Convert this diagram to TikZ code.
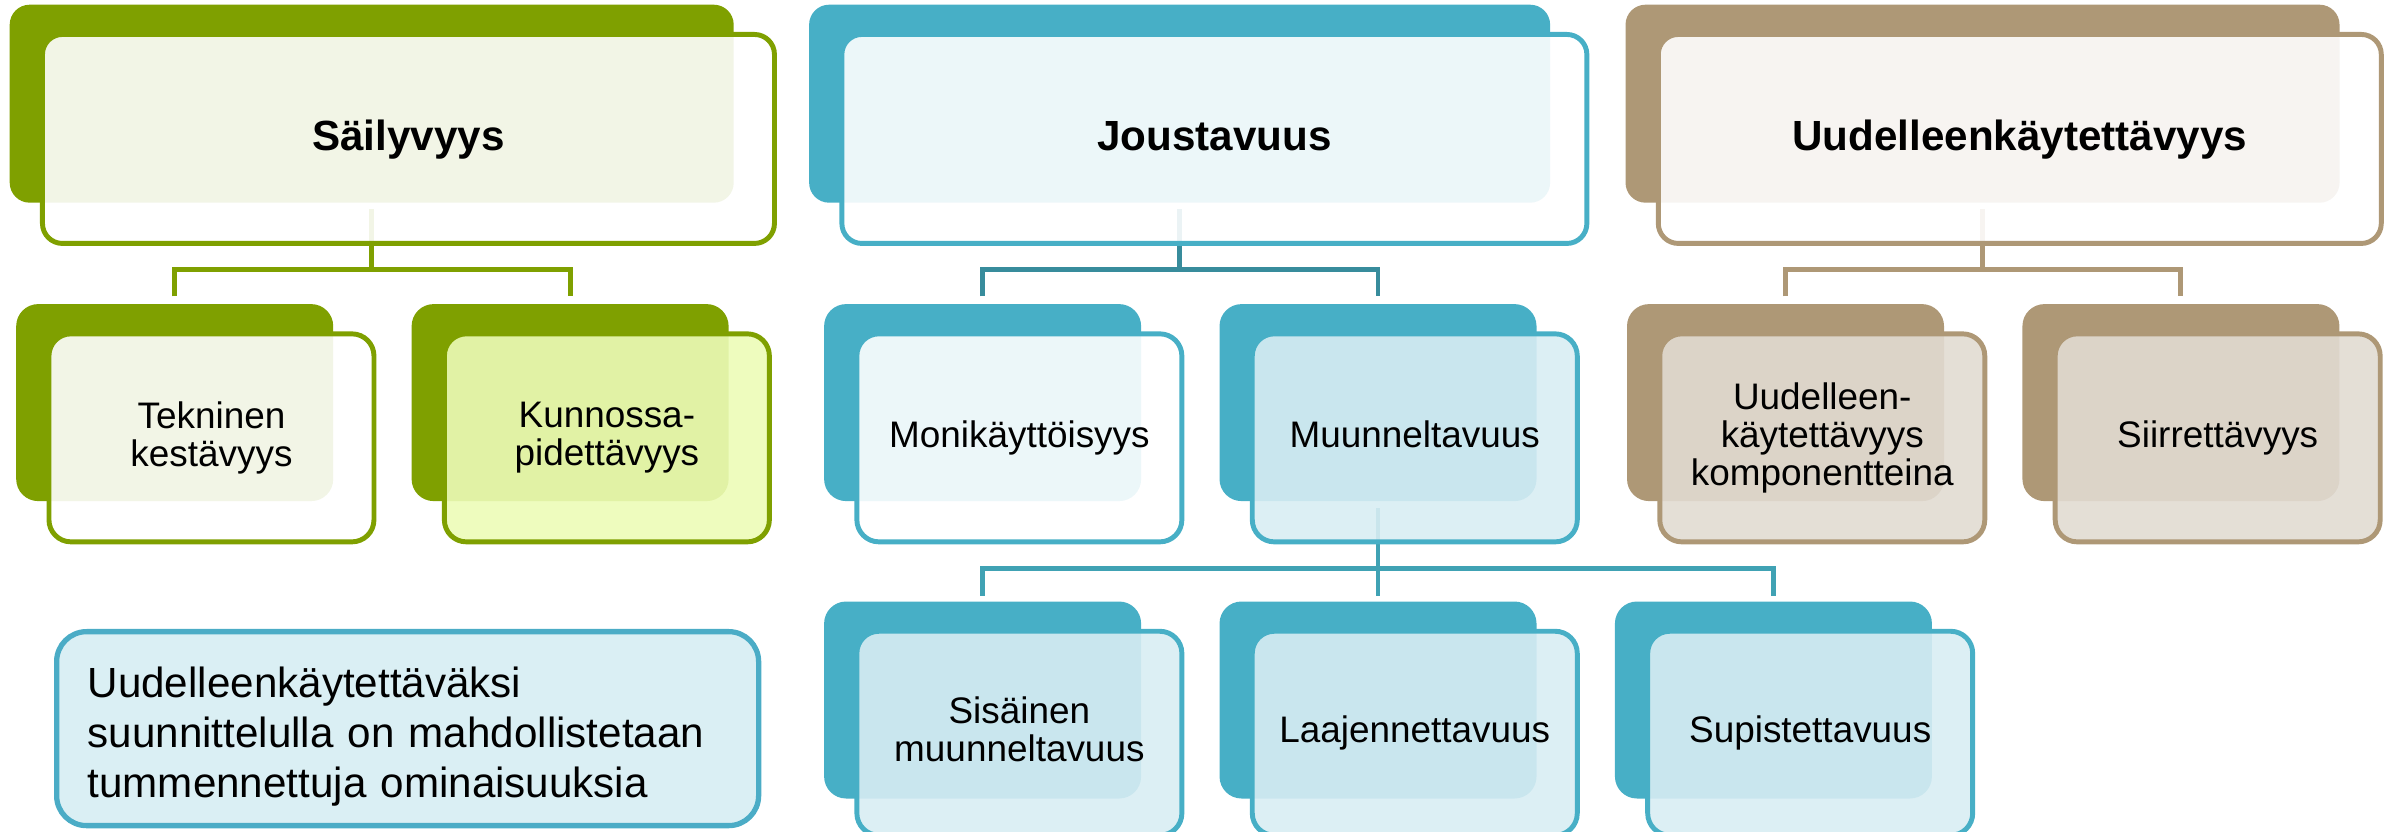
\documentclass[tikz,border=0pt]{standalone}
\usepackage{fontspec}
\setmainfont{Liberation Sans}
\usetikzlibrary{positioning}

\definecolor{grDark}{RGB}{127,160,0}
\definecolor{grFill}{RGB}{236,252,183}
\definecolor{blDark}{RGB}{71,175,198}
\definecolor{blLine}{RGB}{56,140,156}
\definecolor{blLink}{RGB}{64,162,180}
\definecolor{blFill}{RGB}{216,237,243}
\definecolor{tnDark}{RGB}{174,152,118}
\definecolor{tnFill}{RGB}{225,219,210}
\definecolor{noteFill}{RGB}{218,239,244}
\definecolor{noteLine}{RGB}{75,172,198}

\begin{document}
\begin{tikzpicture}[
        node distance=0.77cm and 0.77cm,
        tileback/.style={rectangle, rounded corners=0.2cm, inner sep=0pt, fill=#1},
        tilefront/.style={rectangle, rounded corners=0.2cm, inner sep=0pt, draw=#1, line width=1.4pt, fill=white, fill opacity=0.9, text opacity=1, align=center},
        headbox/.style={minimum height=1.98cm},
        headtext/.style={minimum height=2.09cm, text height=8.8pt, text depth=2.5pt, font=\fontsize{12pt}{14pt}\selectfont\bfseries},
        subbox/.style={minimum width=3.17cm, minimum height=1.97cm, rounded corners=0.22cm},
        subtext/.style={minimum width=3.25cm, minimum height=2.08cm, rounded corners=0.22cm, text depth=2.2pt, font=\fontsize{10.5pt}{10.8pt}\selectfont},
        front of/.style={at={([shift={(0.31cm,-0.28cm)}]#1.north west)}, anchor=north west},
        link/.style={line width=1.4pt, draw=#1},
        notebox/.style={rectangle, rounded corners=0.3cm, draw=noteLine, line width=1.5pt, fill=noteFill, align=left, text width=6.40cm, inner xsep=0.31cm, minimum width=7.02cm, minimum height=1.94cm, font=\fontsize{12pt}{14.2pt}\selectfont}
    ]
    \useasboundingbox (0,0) rectangle (23.9,-8.32);

    % Back tiles
    \node (sailB) [tileback=grDark, headbox, minimum width=7.24cm, anchor=north west] at (0.09,-0.04) {};
    \node (jousB) [tileback=blDark, headbox, minimum width=7.41cm, right=0.74cm of sailB] {};
    \node (uudB) [tileback=tnDark, headbox, minimum width=7.14cm, right=0.74cm of jousB] {};

    \node (tekB) [tileback=grDark, subbox, below=1.0cm of sailB.south, xshift=-1.97cm] {};
    \node (kunB) [tileback=grDark, subbox, right=of tekB] {};
    \node (monB) [tileback=blDark, subbox, below=1.0cm of jousB.south, xshift=-1.97cm] {};
    \node (muuB) [tileback=blDark, subbox, right=of monB] {};
    \node (komB) [tileback=tnDark, subbox, below=1.0cm of uudB.south, xshift=-1.97cm] {};
    \node (siiB) [tileback=tnDark, subbox, right=of komB] {};

    \node (laaB) [tileback=blDark, subbox, below=0.99cm of muuB] {};
    \node (sisB) [tileback=blDark, subbox, left=of laaB] {};
    \node (supB) [tileback=blDark, subbox, right=of laaB] {};

    % Connectors
    \coordinate [below=0.66cm of sailB.south] (sailJ);
    \coordinate [below=0.66cm of jousB.south] (jousJ);
    \coordinate [below=0.66cm of uudB.south] (uudJ);
    \coordinate [below=0.67cm of muuB.south] (muuJ);

    \draw [link=grDark] ([yshift=-0.06cm]sailB.south) -- (sailJ);
    \draw [link=grDark] ([yshift=0.07cm]tekB.north) |- (sailJ) -| ([yshift=0.07cm]kunB.north);
    \draw [link=blLine] ([yshift=-0.06cm]jousB.south) -- (jousJ);
    \draw [link=blLine] ([yshift=0.07cm]monB.north) |- (jousJ) -| ([yshift=0.07cm]muuB.north);
    \draw [link=tnDark] ([yshift=-0.06cm]uudB.south) -- (uudJ);
    \draw [link=tnDark] ([yshift=0.07cm]komB.north) |- (uudJ) -| ([yshift=0.07cm]siiB.north);
    \draw [link=blLink] ([yshift=-0.06cm]muuB.south) -- ([yshift=0.05cm]laaB.north);
    \draw [link=blLink] ([yshift=0.05cm]sisB.north) |- (muuJ) -| ([yshift=0.05cm]supB.north);

    % Front tiles
    \node (sail) [tilefront=grDark, headtext, minimum width=7.32cm, front of=sailB] {Säilyvyys};
    \node (jous) [tilefront=blDark, headtext, minimum width=7.45cm, front of=jousB] {Joustavuus};
    \node (uud) [tilefront=tnDark, headtext, minimum width=7.23cm, front of=uudB] {Uudelleenkäytettävyys};

    \node (tek) [tilefront=grDark, subtext, front of=tekB] {Tekninen\\kestävyys};
    \node (kun) [tilefront=grDark, subtext, fill=grFill, front of=kunB] {Kunnossa-\\pidettävyys};
    \node (mon) [tilefront=blDark, subtext, front of=monB] {Monikäyttöisyys};
    \node (muu) [tilefront=blDark, subtext, fill=blFill, front of=muuB] {Muunneltavuus};
    \node (kom) [tilefront=tnDark, subtext, fill=tnFill, front of=komB] {Uudelleen-\\käytettävyys\\komponentteina};
    \node (sii) [tilefront=tnDark, subtext, fill=tnFill, front of=siiB] {Siirrettävyys};

    \node (sis) [tilefront=blDark, subtext, fill=blFill, minimum height=2.04cm, front of=sisB] {Sisäinen\\muunneltavuus};
    \node (laa) [tilefront=blDark, subtext, fill=blFill, minimum height=2.04cm, front of=laaB] {Laajennettavuus};
    \node (sup) [tilefront=blDark, subtext, fill=blFill, minimum height=2.04cm, front of=supB] {Supistettavuus};

    % Note
    \node (note) [notebox, anchor=north west] at (0.54,-6.29) {\rule{0pt}{13.4pt}Uudelleenkäytettäväksi\\suunnittelulla on mahdollistetaan\\tummennettuja ominaisuuksia};

\end{tikzpicture}
\end{document}
